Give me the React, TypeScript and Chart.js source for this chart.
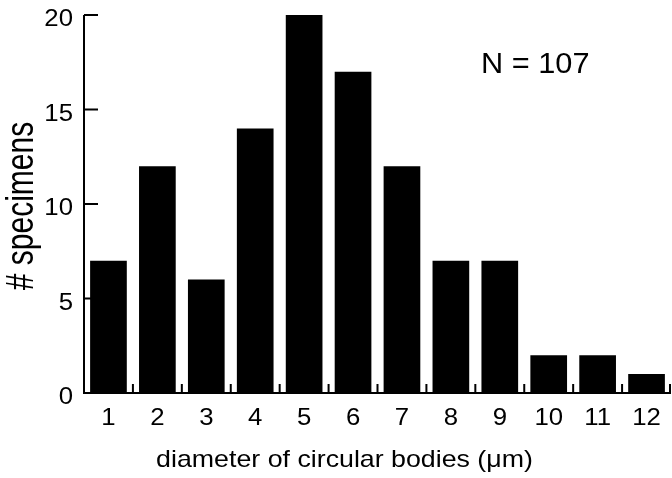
import React, { useEffect, useRef } from "react";
import { Chart, registerables } from "chart.js";

Chart.register(...registerables);

const categories = ["1", "2", "3", "4", "5", "6", "7", "8", "9", "10", "11", "12"];
const counts = [7, 12, 6, 14, 20, 17, 12, 7, 7, 2, 2, 1];
const yTickValues = [0, 5, 10, 15, 20];
const xTitle = "diameter of circular bodies (\u03bcm)";
const yTitle = "# specimens";
const annotation = "N = 107";

const FONT = '"Liberation Sans", Arial, Helvetica, sans-serif';

function drawText(
  ctx: CanvasRenderingContext2D,
  text: string,
  x: number,
  y: number,
  size: number,
  align: CanvasTextAlign,
  sx: number,
  sy: number,
  rot: number
) {
  ctx.save();
  ctx.translate(x, y);
  if (rot) ctx.rotate(rot);
  ctx.scale(sx, sy);
  ctx.font = `${size}px ${FONT}`;
  ctx.fillStyle = "#000";
  ctx.textAlign = align;
  ctx.textBaseline = "alphabetic";
  ctx.fillText(text, 0, 0);
  ctx.restore();
}

const axesPlugin = {
  id: "axesPlugin",
  afterDatasetsDraw(chart: any) {
    const { ctx, chartArea } = chart;
    const { left, right, top, bottom } = chartArea;
    const xs = chart.scales.x;
    const ys = chart.scales.y;
    ctx.save();
    ctx.strokeStyle = "#000";
    ctx.lineWidth = 2;
    ctx.lineCap = "butt";
    ctx.beginPath();
    ctx.moveTo(left, top);
    ctx.lineTo(left, bottom + 1);
    ctx.moveTo(left - 1, bottom);
    ctx.lineTo(right, bottom);
    yTickValues.forEach((v) => {
      if (v === 0) return;
      const y = ys.getPixelForValue(v);
      ctx.moveTo(left, y);
      ctx.lineTo(left + 14, y);
    });
    const n = categories.length;
    const half = (right - left) / n / 2;
    for (let i = 0; i < n; i++) {
      const x = Math.min(xs.getPixelForValue(i) + half, right - 1);
      ctx.moveTo(x, bottom);
      ctx.lineTo(x, bottom - 9);
    }
    ctx.stroke();
    ctx.restore();

    // tick labels
    yTickValues.forEach((v) => {
      const y = ys.getPixelForValue(v);
      drawText(ctx, String(v), left - 11, y + 11, 23, "right", 1.12, 1, 0);
    });
    categories.forEach((c, i) => {
      const x = xs.getPixelForValue(i);
      drawText(ctx, c, x, bottom + 32, 23, "center", 1.12, 1, 0);
    });

    // titles and annotation
    drawText(ctx, xTitle, (left + right) / 2 - 33, bottom + 74, 24, "center", 1.115, 1, 0);
    drawText(ctx, yTitle, left - 51, (top + bottom) / 2 + 2, 30, "center", 1, 1.28, -Math.PI / 2);
    drawText(ctx, annotation, left + 397, top + 58, 29, "left", 1.06, 1, 0);
  },
};

export default function App() {
  const ref = useRef<HTMLCanvasElement>(null);

  useEffect(() => {
    if (!ref.current) return;
    const chart = new Chart(ref.current, {
      type: "bar",
      data: {
        labels: categories,
        datasets: [
          {
            data: counts,
            backgroundColor: "#000",
            borderWidth: 0,
            categoryPercentage: 1,
            barPercentage: 0.75,
          },
        ],
      },
      options: {
        responsive: false,
        animation: false,
        devicePixelRatio: 1,
        layout: { padding: { top: 15, right: 1, left: 0, bottom: 0 } },
        plugins: {
          legend: { display: false },
          tooltip: { enabled: false },
          title: { display: false },
        },
        scales: {
          x: {
            type: "category",
            grid: { display: false, drawTicks: false },
            border: { display: false },
            ticks: { display: false },
            afterFit: (scale: any) => {
              scale.height = 85;
              scale.paddingLeft = 0;
              scale.paddingRight = 0;
            },
          },
          y: {
            min: 0,
            max: 20,
            grid: { display: false, drawTicks: false },
            border: { display: false },
            ticks: { display: false, stepSize: 5 },
            afterFit: (scale: any) => {
              scale.width = 84;
              scale.paddingTop = 0;
              scale.paddingBottom = 0;
            },
          },
        },
      },
      plugins: [axesPlugin],
    });
    return () => chart.destroy();
  }, []);

  return (
    <div style={{ position: "absolute", left: 0, top: 0, width: 672, height: 478, background: "#fff" }}>
      <canvas ref={ref} width={672} height={478} style={{ display: "block" }} />
    </div>
  );
}
